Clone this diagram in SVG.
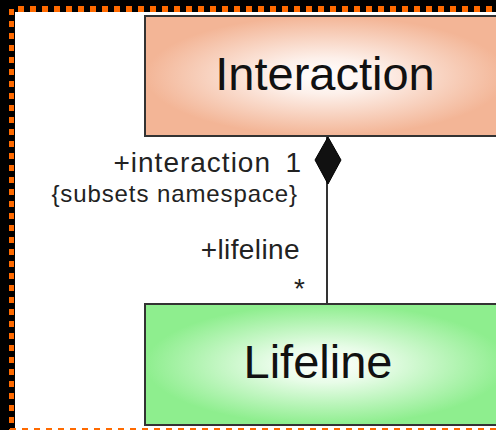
<svg xmlns="http://www.w3.org/2000/svg" width="496" height="430" viewBox="0 0 496 430">
<defs>
<radialGradient id="gSalmon" cx="0.5" cy="0.5" r="0.5">
<stop offset="0" stop-color="#ffffff"/>
<stop offset="0.3" stop-color="#fdf0ea"/>
<stop offset="1" stop-color="#f3b596"/>
</radialGradient>
<radialGradient id="gGreen" cx="0.5" cy="0.5" r="0.5">
<stop offset="0" stop-color="#ffffff"/>
<stop offset="0.3" stop-color="#e8fce8"/>
<stop offset="1" stop-color="#8eee8e"/>
</radialGradient>
<style>
.box{stroke:#333;stroke-width:2}
.title{font-family:"Liberation Sans",Arial,sans-serif;font-size:47px;fill:#111;text-anchor:middle}
.lbl{font-family:"Liberation Sans",Arial,sans-serif;fill:#222;text-anchor:end}
.dash{stroke:#ff6a00;stroke-dasharray:6 6;fill:none}
</style>
</defs>
<rect x="0" y="0" width="496" height="430" fill="#000"/>
<rect x="15" y="12" width="481" height="418" fill="#fff"/>
<g id="frame">
<line class="dash" x1="18" y1="9" x2="496" y2="9" stroke-width="6"/>
<line class="dash" x1="11.5" y1="9" x2="11.5" y2="430" stroke-width="5"/>
<line class="dash" x1="10" y1="429" x2="496" y2="429" stroke-width="2"/>
</g>
<g id="connectors">
<line x1="327" y1="136" x2="327" y2="304" stroke="#000" stroke-width="1.6"/>
<polygon points="328,137 341,160 328,184 315,160" fill="#111" stroke="#000" stroke-width="1"/>
</g>
<g id="interaction">
<rect class="box" x="145" y="16" width="362" height="120" fill="url(#gSalmon)"/>
<text class="title" x="325" y="90">Interaction</text>
</g>
<g id="lifeline">
<rect class="box" x="145" y="304" width="362" height="121" fill="url(#gGreen)"/>
<text class="title" x="318" y="378" font-size="45">Lifeline</text>
</g>
<g id="labels">
<text class="lbl" x="271" y="172" font-size="28" letter-spacing="1">+interaction<tspan x="302">1</tspan></text>
<text class="lbl" x="298" y="202" font-size="24" letter-spacing="0.9">{subsets namespace}</text>
<text class="lbl" x="300" y="259" font-size="28" letter-spacing="0.4">+lifeline</text>
<text class="lbl" x="305" y="298" font-size="28">*</text>
</g>
</svg>
